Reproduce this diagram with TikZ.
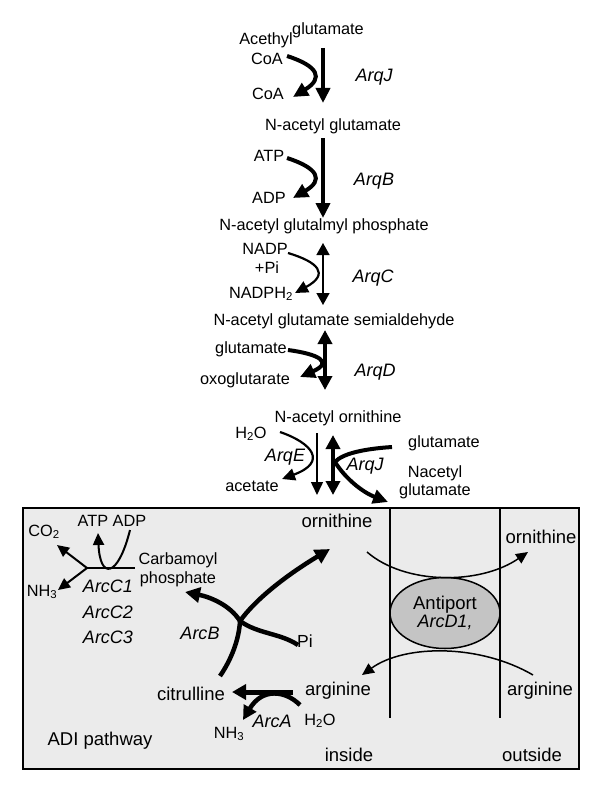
\documentclass[tikz,border=0pt]{standalone}
\usepackage{fontspec}
\setmainfont{Liberation Sans}
\usetikzlibrary{arrows.meta,shapes.geometric}
\definecolor{boxgray}{HTML}{EBEBEB}
\definecolor{ellgray}{HTML}{C4C4C4}
\begin{document}
\begin{tikzpicture}[x=1pt,y=-1pt,
  lab/.style={font=\fontsize{16.3}{20}\selectfont, inner sep=0pt},
  big/.style={font=\fontsize{18.5}{21}\selectfont, inner sep=0pt},
  enz/.style={font=\fontsize{18}{26}\selectfont\itshape, inner sep=0pt},
  thk/.style={line width=4pt, -{Triangle[length=15pt,width=14pt]}},
  thkd/.style={line width=4pt, {Triangle[length=14pt,width=14pt]}-{Triangle[length=14pt,width=14pt]}},
  thn/.style={line width=1.5pt, -{Triangle[length=12pt,width=11pt]}},
  thnd/.style={line width=1.5pt, {Triangle[length=12pt,width=13pt]}-{Triangle[length=12pt,width=13pt]}},
  mid/.style={line width=2.2pt, -{Triangle[length=13pt,width=12pt]}},
  arcb/.style={line width=4.5pt},
  arcbarr/.style={line width=4.5pt, -{Triangle[length=15pt,width=15pt]}},
  memb/.style={line width=1.5pt},
]
\useasboundingbox (0,0) rectangle (600,789);

% ---------- upper pathway ----------
\node[lab] (glu0) at (328,30) {glutamate};
\node[lab] (acethyl) at (266,40) {Acethyl};
\node[lab] (coa1) at (267,59) {CoA};
\node[lab] (coa2) at (268,94) {CoA};
\node[enz] (arqj1) at (374,77) {ArqJ};
\coordinate (a1s) at (323,48); \coordinate (a1e) at (323,103);
\draw[thk] (a1s) -- (a1e);
\coordinate (c1s) at (287,56); \coordinate (c1e) at (293,97);
\draw[thk] (c1s) .. controls (318,66) and (324,78) .. (c1e);

\node[lab] (nag) at (333,126) {N-acetyl glutamate};
\node[lab] (atp) at (269,156) {ATP};
\node[lab] (adp) at (269,198) {ADP};
\node[enz] (arqb) at (374,181) {ArqB};
\coordinate (a2s) at (323,138); \coordinate (a2e) at (323,218);
\draw[thk] (a2s) -- (a2e);
\coordinate (c2s) at (287,158); \coordinate (c2e) at (293,198);
\draw[thk] (c2s) .. controls (318,168) and (324,180) .. (c2e);

\node[lab] (nagp) at (324,226) {N-acetyl glutalmyl phosphate};
\node[lab] (nadp) at (265,249) {NADP};
\node[lab] (pi1) at (267,268) {+Pi};
\node[lab] (nadph) at (261,294) {NADPH\textsubscript{2}};
\node[enz] (arqc) at (373,278) {ArqC};
\coordinate (a3s) at (323,243); \coordinate (a3e) at (323,305);
\draw[thnd] (a3s) -- (a3e);
\coordinate (c3s) at (288,253); \coordinate (c3e) at (295,293);
\draw[mid] (c3s) .. controls (318,262) and (330,274) .. (c3e);

\node[lab] (nags) at (334,321) {N-acetyl glutamate semialdehyde};
\node[lab] (glu1) at (251,349) {glutamate};
\node[lab] (oxo) at (245,380) {oxoglutarate};
\node[enz] (arqd) at (375,372) {ArqD};
\coordinate (a4s) at (325,330); \coordinate (a4e) at (325,390);
\draw[thkd] (a4s) -- (a4e);
\coordinate (c4s) at (288,350); \coordinate (c4e) at (300,377);
\draw[thk] (c4s) .. controls (318,354) and (334,362) .. (c4e);

\node[lab] (nao) at (338,418) {N-acetyl ornithine};
\node[lab] (h2o1) at (251,434) {H\textsubscript{2}O};
\node[enz] (arqe) at (285,457) {ArqE};
\node[lab] (acetate) at (252,486) {acetate};
\node[enz] (arqj2) at (365,466) {ArqJ};
\node[lab] (glu2) at (444,443) {glutamate};
\node[lab, align=center] (nacglu) at (435,482) {Nacetyl\\[-2pt]glutamate};
\coordinate (a5s) at (317,433); \coordinate (a5e) at (317,495);
\draw[line width=1.5pt, -{Triangle[length=13pt,width=12pt]}] (a5s) -- (a5e);
\coordinate (a6s) at (333,435); \coordinate (a6e) at (333,495);
\draw[thkd] (a6s) -- (a6e);
\coordinate (c5s) at (280,432); \coordinate (c5e) at (282,479);
\draw[mid] (c5s) .. controls (312,443) and (328,462) .. (c5e);
\coordinate (c6s) at (392,447); \coordinate (c6m) at (335,462); \coordinate (c6e) at (388,502);
\draw[line width=4pt] (c6s) .. controls (362,449) and (342,454) .. (c6m);
\draw[thk] (c6m) .. controls (345,478) and (362,492) .. (c6e);

% ---------- ADI box ----------
\draw[line width=1.5pt, fill=boxgray] (23,508) rectangle (579,769);
\coordinate (m1t) at (390,508); \coordinate (m1b) at (390,718);
\coordinate (m2t) at (500,508); \coordinate (m2b) at (500,718);
\draw[memb] (m1t) -- (m1b);
\draw[memb] (m2t) -- (m2b);
\node[draw, line width=1.5pt, fill=ellgray, ellipse, minimum width=110pt, minimum height=71pt, inner sep=0pt, align=center] (antiport) at (445,613)
  {\fontsize{18.5}{26}\selectfont Antiport\\\fontsize{18}{26}\selectfont\itshape ArcD1,};

\node[big] (orn1) at (337,521) {ornithine};
\node[big] (orn2) at (541,537) {ornithine};
\node[big] (arg1) at (338,691) {arginine};
\node[big] (arg2) at (540,691) {arginine};
\node[lab] (h2o2) at (320,721) {H\textsubscript{2}O};
\node[big] (inside) at (349,755) {inside};
\node[big] (outside) at (532,755) {outside};
\node[big] (adi) at (100,741) {ADI pathway};
\node[big] (citr) at (191,694) {citrulline};
\node[lab] (nh3b) at (229,734) {NH\textsubscript{3}};
\node[enz] (arca) at (272,721) {ArcA};
\node[enz] (arcb) at (200,633) {ArcB};
\node[font=\fontsize{17.5}{20}\selectfont, inner sep=0pt] (pi2) at (305,641) {Pi};
\node[lab] (co2) at (44,532) {CO\textsubscript{2}};
\node[lab] (atpadp) at (112,521) {ATP ADP};
\node[lab] (nh3a) at (42,592) {NH\textsubscript{3}};
\node[lab, align=center] (carb) at (178,570) {Carbamoyl\\[-0.5pt]phosphate};
\node[enz] (arcc1) at (108,586) {ArcC1};
\node[enz] (arcc2) at (108,612) {ArcC2};
\node[enz] (arcc3) at (108,637) {ArcC3};

% antiport arcs
\coordinate (o1s) at (367,552); \coordinate (o1e) at (528,552);
\draw[thn] (o1s) .. controls (405,585) and (480,585) .. (o1e);
\coordinate (r1s) at (533,675); \coordinate (r1e) at (362,675);
\draw[thn] (r1s) .. controls (480,644) and (405,644) .. (r1e);

% ArcB
\coordinate (jb) at (240,621);
\coordinate (tOrn) at (330,549);
\coordinate (tCarb) at (185,592);
\coordinate (ePi) at (298,645);
\coordinate (eCit) at (220,676);
\draw[arcbarr] (jb) .. controls (255,600) and (285,576) .. (tOrn);
\draw[arcbarr] (jb) .. controls (230,605) and (210,597) .. (tCarb);
\draw[arcb] (jb) .. controls (258,634) and (280,633) .. (ePi);
\draw[arcb] (jb) .. controls (239,640) and (231,660) .. (eCit);

% ArcA
\coordinate (cs) at (293,692); \coordinate (ce) at (232,692);
\draw[line width=5pt, -{Triangle[length=14pt,width=15pt]}] (cs) -- (ce);
\coordinate (as) at (300,705); \coordinate (ae) at (243,720);
\draw[line width=4.5pt, -{Triangle[length=14pt,width=14pt]}] (as) .. controls (285,690) and (262,688) .. (ae);

% ArcC
\coordinate (cj) at (87,568); \coordinate (cr) at (135,568);
\coordinate (tco2) at (57,545); \coordinate (tnh3) at (58,590);
\coordinate (adps) at (130,530); \coordinate (atpt) at (98,533);
\draw[line width=1.5pt] (cj) -- (cr);
\draw[line width=2pt, -{Triangle[length=12pt,width=11pt]}] (cj) -- (tco2);
\draw[line width=2pt, -{Triangle[length=12pt,width=11pt]}] (cj) -- (tnh3);
\draw[line width=2pt, -{Triangle[length=12pt,width=11pt]}] (adps) .. controls (118,578) and (100,580) .. (atpt);
\end{tikzpicture}
\end{document}
